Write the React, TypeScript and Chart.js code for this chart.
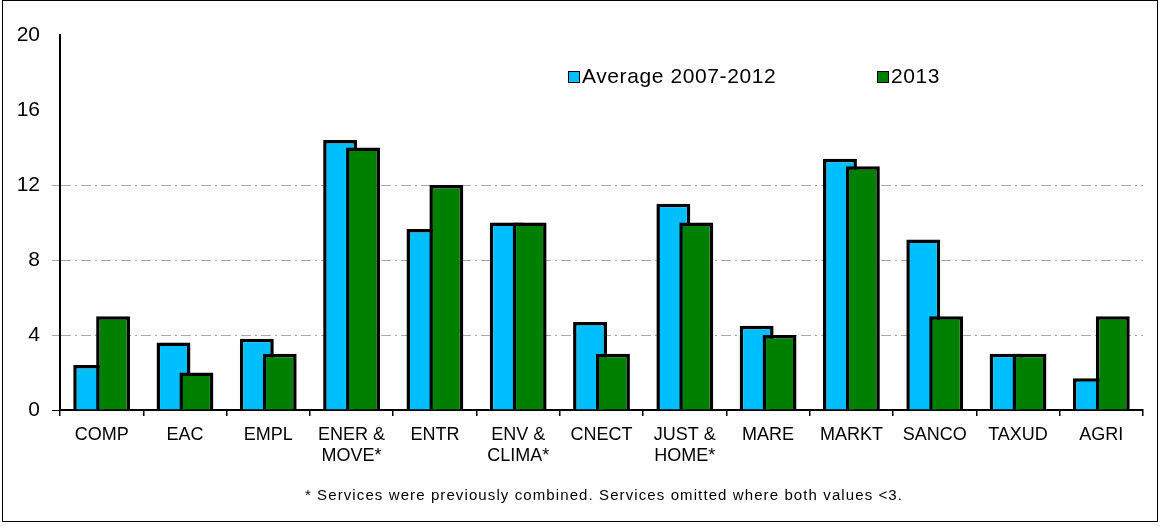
import React, { useEffect, useRef } from "react";
import { Chart, registerables } from "chart.js";

Chart.register(...registerables);

const categories: (string | string[])[] = [
  "COMP", "EAC", "EMPL", ["ENER &", "MOVE*"], "ENTR", ["ENV &", "CLIMA*"],
  "CNECT", ["JUST &", "HOME*"], "MARE", "MARKT", "SANCO", "TAXUD", "AGRI",
];
const average20072012 = [2.4, 3.6, 3.8, 14.4, 9.65, 10, 4.7, 11, 4.5, 13.4, 9.1, 3, 1.7];
const values2013 = [5, 2, 3, 14, 12, 10, 3, 10, 4, 13, 5, 3, 5];
const seriesNames = ["Average 2007-2012", "2013"];
const yTicks = [0, 4, 8, 12, 16, 20];
const footnote = "* Services were previously combined. Services omitted where both values <3.";

const FONT = "'Liberation Sans', Arial, Helvetica, sans-serif";
const BLUE = "#00BFFF";
const GREEN = "#008000";

const greenOnTop = {
  id: "greenOnTop",
  beforeDatasetDraw(chart: any, args: any) {
    if (args.index === 1) return false;
  },
  afterDatasetDraw(chart: any, args: any) {
    if (args.index === 0) {
      const meta = chart.getDatasetMeta(1);
      if (meta && !meta.hidden) meta.controller.draw();
    }
  },
};

const customText = {
  id: "customText",
  afterDraw(chart: any) {
    const ctx = chart.ctx;
    ctx.save();
    const items = [
      { x: 568, color: BLUE, label: chart.data.datasets[0].label },
      { x: 877, color: GREEN, label: chart.data.datasets[1].label },
    ];
    const y = 77;
    ctx.font = `21px ${FONT}`;
    (ctx as any).letterSpacing = "0.6px";
    ctx.textBaseline = "middle";
    ctx.textAlign = "left";
    for (const it of items) {
      ctx.fillStyle = it.color;
      ctx.fillRect(it.x, y - 6, 12, 12);
      ctx.strokeStyle = "#000";
      ctx.lineWidth = 1;
      ctx.strokeRect(it.x + 0.5, y - 5.5, 11, 11);
      ctx.fillStyle = "#000";
      ctx.fillText(it.label, it.x + 14, y);
    }
    ctx.font = `15px ${FONT}`;
    (ctx as any).letterSpacing = "1.1px";
    ctx.textAlign = "center";
    ctx.fillText(footnote, 604, 496);
    ctx.restore();
  },
};

export default function App() {
  const ref = useRef<HTMLCanvasElement>(null);
  useEffect(() => {
    if (!ref.current) return;
    const chart = new Chart(ref.current, {
      type: "bar",
      data: {
        labels: categories as any,
        datasets: [
          {
            label: seriesNames[0],
            data: average20072012,
            backgroundColor: BLUE,
            borderColor: "#000",
            borderWidth: 3.5,
            borderSkipped: "bottom",
            categoryPercentage: 0.55,
            barPercentage: 1.48,
          },
          {
            label: seriesNames[1],
            data: values2013,
            backgroundColor: GREEN,
            borderColor: "#000",
            borderWidth: 3.5,
            borderSkipped: "bottom",
            categoryPercentage: 0.55,
            barPercentage: 1.48,
          },
        ],
      },
      options: {
        animation: false,
        responsive: false,
        maintainAspectRatio: false,
        layout: { padding: { left: 0, right: 22, top: 35, bottom: 0 } },
        plugins: {
          legend: { display: false },
          tooltip: { enabled: false },
          title: { display: false },
        },
        scales: {
          x: {
            grid: {
              display: true,
              drawOnChartArea: false,
              offset: true,
              color: "#000",
              tickColor: "#000",
              lineWidth: 1.5,
              tickLength: 6,
            },
            border: { display: true, color: "#000", width: 2 },
            ticks: {
              color: "#000",
              font: { family: FONT, size: 18 },
              maxRotation: 0,
              autoSkip: false,
              padding: 8,
            },
            afterFit: (scale: any) => {
              scale.height = 119;
            },
          },
          y: {
            min: 0,
            max: 20,
            afterBuildTicks: (scale: any) => {
              scale.ticks = yTicks.map((v) => ({ value: v }));
            },
            grid: {
              color: (c: any) => {
                const v = c.tick?.value;
                return v === 4 || v === 8 || v === 12 ? "#a8a8a8" : "rgba(0,0,0,0)";
              },
              tickColor: (c: any) => {
                const v = c.tick?.value;
                if (v === 0) return "#000";
                return v === 4 || v === 8 || v === 12 ? "#a8a8a8" : "rgba(0,0,0,0)";
              },
              lineWidth: 1,
              tickBorderDash: [10, 4, 2, 4],
              tickLength: 8,
            } as any,
            border: { display: true, color: "#000", width: 2, dash: [10, 4, 2, 4] },
            ticks: {
              color: "#000",
              font: { family: FONT, size: 21 },
              padding: 12,
            },
            afterFit: (scale: any) => {
              scale.width = 60;
            },
          },
        },
      },
      plugins: [greenOnTop, customText],
    });
    return () => chart.destroy();
  }, []);
  return (
    <div style={{ position: "absolute", left: 0, top: 0, width: 1165, height: 529, background: "#fff" }}>
      <canvas ref={ref} width={1165} height={529} style={{ position: "absolute", left: 0, top: 0 }} />
      <div
        style={{
          position: "absolute",
          left: 2,
          top: 0,
          width: 1154,
          height: 520,
          border: "1.5px solid #000",
          pointerEvents: "none",
        }}
      />
    </div>
  );
}
